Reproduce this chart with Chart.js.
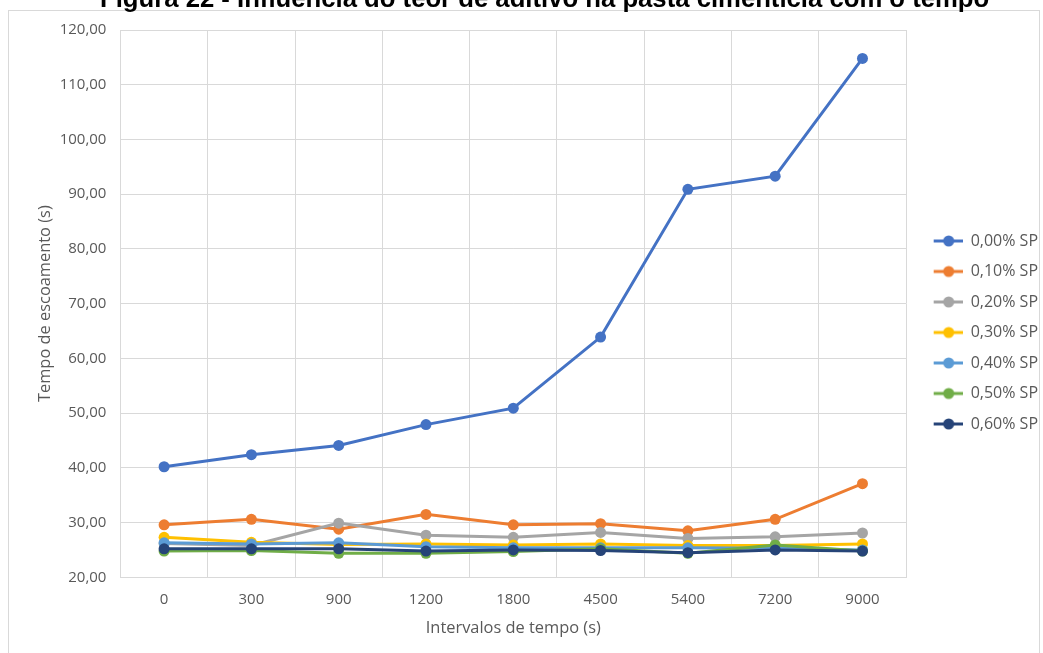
<!DOCTYPE html>
<html lang="pt-br">

<head>
    <meta charset="UTF-8">
    <title>Tempo de escoamento</title>
    <script src="https://cdn.jsdelivr.net/npm/chart.js"></script>
    <style>
        body {
            margin: 0;
            width: 1043px;
            height: 653px;
            overflow: hidden;
            position: relative;
            background: #fff;
        }

        .titulo {
            position: absolute;
            top: -14px;
            left: 100px;
            white-space: nowrap;
            font-family: Arial, "Liberation Sans", sans-serif;
            font-weight: bold;
            font-size: 25.7px;
            line-height: 25.7px;
            color: #000;
        }

        .caixa {
            position: absolute;
            left: 8px;
            top: 10px;
            width: 1032px;
            height: 670px;
            border: 1px solid #d9d9d9;
            box-sizing: border-box;
            background: #fff;
        }

        /* o canvas passa um pouco da borda direita para caber a legenda */
        .grafico {
            position: absolute;
            left: 0;
            top: 0;
            width: 1039px;
            height: 642px;
        }
    </style>
</head>

<body>
    <div class="caixa">
        <div class="grafico">
            <canvas id="graficoTempo"></canvas>
        </div>
    </div>
    <div class="titulo">Figura 22 - Influência do teor de aditivo na pasta cimentícia com o tempo</div>

    <script>
        // Intervalos de tempo (s)
        var intervalos = ['0', '300', '900', '1200', '1800', '4500', '5400', '7200', '9000'];

        // Tempo de escoamento (s) para cada teor de superplastificante
        var sp000 = [40.2, 42.4, 44.1, 47.9, 50.9, 63.9, 90.9, 93.3, 114.8];
        var sp010 = [29.6, 30.6, 28.8, 31.5, 29.6, 29.8, 28.5, 30.6, 37.1];
        var sp020 = [26.2, 25.8, 29.9, 27.7, 27.3, 28.2, 27.1, 27.4, 28.1];
        var sp030 = [27.3, 26.4, 26.0, 26.1, 25.9, 26.1, 25.8, 25.8, 26.1];
        var sp040 = [26.3, 26.1, 26.3, 25.6, 25.4, 25.4, 25.4, 25.3, 25.0];
        var sp050 = [24.8, 24.9, 24.4, 24.4, 24.7, 25.2, 24.4, 25.9, 24.8];
        var sp060 = [25.2, 25.2, 25.2, 24.8, 25.0, 24.9, 24.5, 25.0, 24.8];

        var nomesSeries = ['0,00% SP', '0,10% SP', '0,20% SP', '0,30% SP', '0,40% SP', '0,50% SP', '0,60% SP'];
        var cores = ['#4472C4', '#ED7D31', '#A5A5A5', '#FFC000', '#5B9BD5', '#70AD47', '#264478'];

        var yMin = 20;
        var yMax = 120;
        var yPasso = 10;

        var series = [sp000, sp010, sp020, sp030, sp040, sp050, sp060];

        // marcador da legenda: linha com bolinha no meio
        function marcadorLegenda(cor) {
            var c = document.createElement('canvas');
            c.width = 42;
            c.height = 14;
            var ctx = c.getContext('2d');
            ctx.strokeStyle = cor;
            ctx.lineWidth = 3;
            ctx.beginPath();
            ctx.moveTo(13, 7);
            ctx.lineTo(42, 7);
            ctx.stroke();
            ctx.fillStyle = cor;
            ctx.beginPath();
            ctx.arc(28, 7, 5.5, 0, Math.PI * 2);
            ctx.fill();
            return c;
        }

        var datasets = [];
        for (var i = 0; i < series.length; i++) {
            datasets.push({
                label: nomesSeries[i],
                data: series[i],
                borderColor: cores[i],
                backgroundColor: cores[i],
                borderWidth: 3,
                pointRadius: 5.5,
                pointBorderWidth: 0,
                pointHoverRadius: 5.5,
                tension: 0,
                // a última série fica por cima
                order: series.length - 1 - i
            });
        }

        var corTexto = '#595959';
        var corGrade = '#d9d9d9';
        var fonte = '"Open Sans", sans-serif';

        new Chart(document.getElementById('graficoTempo'), {
            type: 'line',
            data: {
                labels: intervalos,
                datasets: datasets
            },
            options: {
                responsive: true,
                maintainAspectRatio: false,
                animation: false,
                layout: {
                    padding: { left: 26, top: 6, right: 0, bottom: 5 }
                },
                plugins: {
                    legend: {
                        position: 'right',
                        labels: {
                            usePointStyle: true,
                            pointStyleWidth: 42,
                            padding: 14.5,
                            color: corTexto,
                            font: { family: fonte, size: 16 },
                            generateLabels: function (chart) {
                                return chart.data.datasets.map(function (ds, idx) {
                                    return {
                                        text: ds.label,
                                        pointStyle: marcadorLegenda(ds.borderColor),
                                        fillStyle: ds.borderColor,
                                        strokeStyle: ds.borderColor,
                                        lineWidth: 0,
                                        fontColor: corTexto,
                                        hidden: false,
                                        datasetIndex: idx
                                    };
                                });
                            }
                        }
                    },
                    tooltip: { enabled: false }
                },
                scales: {
                    x: {
                        offset: true,
                        grid: { offset: true, color: corGrade, lineWidth: 1, drawTicks: false },
                        border: { color: corGrade },
                        ticks: {
                            color: corTexto,
                            padding: 13,
                            font: { family: fonte, size: 15 },
                            maxRotation: 0
                        },
                        title: {
                            display: true,
                            text: 'Intervalos de tempo (s)',
                            color: corTexto,
                            font: { family: fonte, size: 16.4 },
                            padding: { top: 10, bottom: 10 }
                        },
                        // tira a folga entre rótulos e título do eixo
                        afterFit: function (escala) {
                            escala.height -= 13;
                        }
                    },
                    y: {
                        min: yMin,
                        max: yMax,
                        grid: { color: corGrade, lineWidth: 1, drawTicks: false },
                        border: { display: false },
                        ticks: {
                            stepSize: yPasso,
                            color: corTexto,
                            padding: 14,
                            font: { family: fonte, size: 15 },
                            callback: function (v) {
                                return v.toFixed(2).replace('.', ',');
                            }
                        },
                        title: {
                            display: true,
                            text: 'Tempo de escoamento (s)',
                            color: corTexto,
                            font: { family: fonte, size: 16.4 },
                            padding: { top: 0, bottom: 4 }
                        },
                        afterFit: function (escala) {
                            escala.width -= 13;
                            escala.paddingTop = 19;
                        }
                    }
                }
            }
        });
    </script>
</body>

</html>
